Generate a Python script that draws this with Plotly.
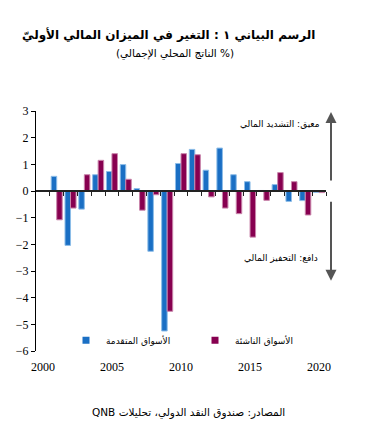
import plotly.graph_objects as go

years = list(range(2000, 2021))
advanced = [None, 0.55, -2.04, -0.68, 0.61, 0.73, 0.99, 0.09, -2.26, -5.25, 1.03,
            1.56, 0.78, 1.61, 0.61, 0.35, 0.02, 0.24, -0.39, -0.36, -0.05]
emerging = [None, -1.08, -0.64, 0.61, 1.15, 1.40, 0.44, -0.72, -0.14, -4.51, 1.40,
            1.36, -0.22, -0.64, -0.85, -1.73, -0.35, 0.69, 0.35, -0.90, -0.06]
year_ticks = [2000, 2005, 2010, 2015, 2020]
y_ticks = [3, 2, 1, 0, -1, -2, -3, -4, -5, -6]

RLE, PDF = "\u202b", "\u202c"
name_adv = "الأسواق المتقدمة"
name_em = "الأسواق الناشئة"
title = "<b>" + RLE + "الرسم البياني ١ : التغير في الميزان المالي الأوليّ" + PDF + "</b>"
subtitle = RLE + "(% الناتج المحلي الإجمالي)" + PDF
label_up = RLE + "معيق: التشديد المالي" + PDF
label_down = RLE + "دافع: التحفيز المالي" + PDF
source = RLE + "المصادر: صندوق النقد الدولي، تحليلات QNB" + PDF

BLUE = "#1a6fc4"
MAROON = "#870050"

fig = go.Figure()
fig.add_trace(go.Bar(x=years, y=advanced, name=name_adv, marker_color=BLUE,
                     marker_line=dict(color="#8dbde8", width=1), showlegend=False))
fig.add_trace(go.Bar(x=years, y=emerging, name=name_em, marker_color=MAROON,
                     marker_line=dict(color="#c985ab", width=1), showlegend=False))
# legend entries
fig.add_trace(go.Scatter(x=[None], y=[None], mode="markers", name=name_adv,
                         marker=dict(symbol="square", size=7, color=BLUE)))
fig.add_trace(go.Scatter(x=[None], y=[None], mode="markers", name=name_em,
                         marker=dict(symbol="square", size=7, color=MAROON)))
# helper trace for zero-line axis
fig.add_trace(go.Scatter(x=years, y=[None] * len(years), xaxis="x2", mode="markers",
                         showlegend=False, hoverinfo="skip", marker=dict(opacity=0)))

serif = "Liberation Serif, Times New Roman, serif"
arab = "DejaVu Sans, sans-serif"

fig.update_layout(
    width=378, height=430,
    margin=dict(l=36, r=52, t=111, b=79),
    paper_bgcolor="white", plot_bgcolor="white",
    barmode="group", bargap=0.2, bargroupgap=0,
    font=dict(family=serif, color="black", size=12),
    xaxis=dict(range=[1999.5, 2020.5], tickvals=year_ticks, ticks="", showline=False,
               showgrid=False, zeroline=False, ticklabelstandoff=7,
               tickfont=dict(family=serif, size=12, color="black")),
    xaxis2=dict(range=[1999.5, 2020.5], overlaying="x", anchor="free", position=6 / 9,
                showline=True, linecolor="#222", linewidth=1.5, ticks="outside",
                ticklen=4, tickcolor="#222", tickwidth=1,
                tickvals=[y - 0.5 for y in years[1:]] + [2020.5],
                showticklabels=False, showgrid=False, zeroline=False, layer="above traces"),
    yaxis=dict(range=[-6, 3], tickvals=y_ticks, showline=True, linecolor="black",
               linewidth=1, ticks="outside", ticklen=4, tickcolor="black",
               showgrid=False, zeroline=False,
               tickfont=dict(family=serif, size=12, color="black")),
    legend=dict(orientation="h", x=(66 - 36) / 290, y=0.045, xanchor="left", yanchor="middle",
                entrywidth=84, entrywidthmode="pixels", bgcolor="rgba(0,0,0,0)",
                font=dict(family=arab, size=9, color="black"), tracegroupgap=0),
    showlegend=True,
)

annots = [
    dict(text=title, xref="paper", yref="paper", x=(168 - 36) / 290, y=(350.7 - 35) / 240,
         xanchor="center", yanchor="middle", showarrow=False,
         font=dict(family=arab, size=12, color="black")),
    dict(text=subtitle, xref="paper", yref="paper", x=(175 - 36) / 290, y=(350.7 - 53) / 240,
         xanchor="center", yanchor="middle", showarrow=False,
         font=dict(family=arab, size=10.5, color="black")),
    dict(text=label_up, xref="paper", yref="y", x=(322 - 36) / 290, y=2.5,
         xanchor="right", yanchor="middle", showarrow=False,
         font=dict(family=arab, size=9, color="black")),
    dict(text=label_down, xref="paper", yref="y", x=(320 - 36) / 290, y=-2.53,
         xanchor="right", yanchor="middle", showarrow=False,
         font=dict(family=arab, size=9, color="black")),
    dict(text=source, xref="paper", yref="paper", x=(188 - 36) / 290, y=(350.7 - 412) / 240,
         xanchor="center", yanchor="middle", showarrow=False,
         font=dict(family=arab, size=10.5, color="black")),
    # arrows
    dict(text="", xref="paper", yref="y", x=(331 - 36) / 290, y=2.96,
         axref="pixel", ayref="y", ax=0, ay=0.34, showarrow=True, arrowhead=2,
         arrowsize=1.1, arrowwidth=2, arrowcolor="#555", standoff=0, startstandoff=0),
    dict(text="", xref="paper", yref="y", x=(331 - 36) / 290, y=-3.37,
         axref="pixel", ayref="y", ax=0, ay=-0.35, showarrow=True, arrowhead=2,
         arrowsize=1.1, arrowwidth=2, arrowcolor="#555", standoff=0, startstandoff=0),
]
fig.update_layout(annotations=annots)

fig.write_html("out.html", config={"displayModeBar": False},
               post_script="document.body.style.margin='0';")
